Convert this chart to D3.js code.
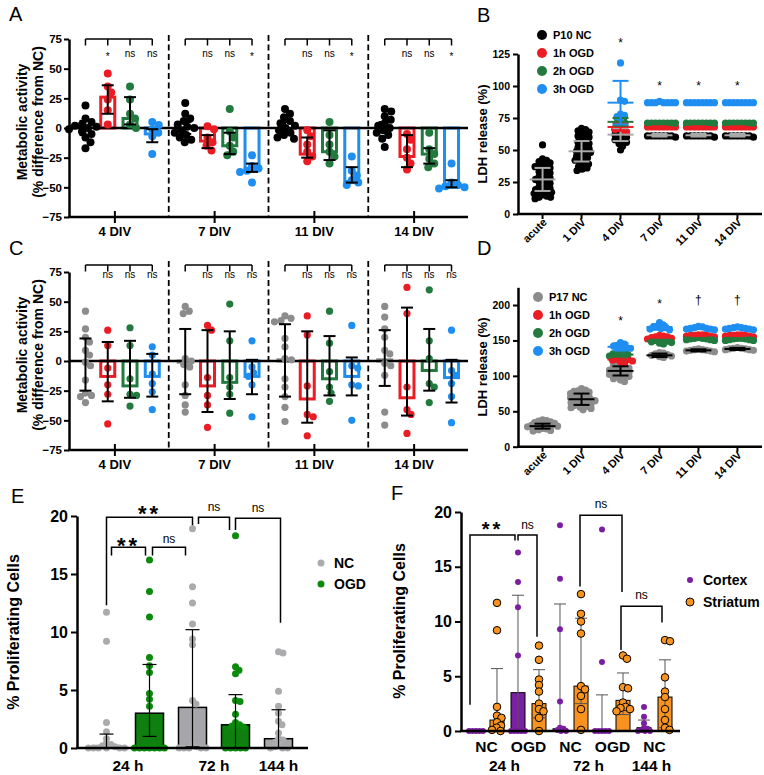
<!DOCTYPE html>
<html><head><meta charset="utf-8">
<script src="https://cdn.jsdelivr.net/npm/d3@7"></script>
<style>body{margin:0;background:#fff}svg{display:block}</style>
</head><body><svg id="c" width="764" height="775"></svg>
<script>
// ---------- DATA ----------
const divCats = ["4 DIV","7 DIV","11 DIV","14 DIV"];
const conds = ["NC","1h OGD","2h OGD","3h OGD"];
const divTicks = [-75,-50,-25,0,25,50,75];

// Panel A (P10) metabolic activity
const aMean = [[0,26,8,-5],[0,-11,-15,-36],[0,-22,-20,-45],[0,-24,-22,-50]];
const aHi   = [[6,36,26,-1],[5,-6,-4,-30],[5,-8,-2,-33],[5,-6,-17,-44]];
const aLo   = [[-6,12,3,-12],[-5,-17,-22,-37],[-3,-25,-27,-46],[-3,-33,-30,-50]];
const aPts = [
 [[19,8,5,3,2,1,0,-1,-3,-5,-8,-12,-17],[46,35,30,24,15,3],[35,24,12,8,3,0],[5,2.5,-1,-4,-7,-22]],
 [[21,12,8,6,3,1,0,-2,-4,-6,-8,-10,-12],[1.5,-1,-8,-12,-15,-19],[16,-3,-8,-15,-20,-23],[-23,-32,-34,-36,-37,-46]],
 [[16,12,9,6,4,2,0,-2,-4,-6,-8,-9],[-2,-7,-14,-20,-24,-28],[5,-6,-14,-20,-24,-30],[-24,-36,-40,-44,-46,-48]],
 [[16,14,10,7,4,2,0,-2,-4,-6,-9,-16],[-5,-10,-18,-25,-30,-35],[-4,-18,-22,-26,-30,-33],[-30,-46,-48,-49,-50,-51]]
];
const aSig = [["*","ns","ns"],["ns","ns","*"],["ns","ns","*"],["ns","ns","*"]];

// Panel C (P17) metabolic activity
const cMean = [[0,-13,-21,-13],[-1,-21,-18,-13],[1,-32,-15,-13],[1,-31,-8,-14]];
const cHi   = [[19,16,17,6],[27,26,25,1],[31,25,21,3],[26,45,27,1]];
const cLo   = [[-25,-34,-31,-30],[-28,-43,-32,-28],[-30,-52,-29,-29],[-21,-46,-25,-35]];
const cPts = [
 [[42,27,20,16,9,5,-1,-4,-16,-27,-29,-30,-35],[26,13,-6,-20,-28,-53],[28,13,-15,-28,-29,-38],[12,5,-11,-19,-26,-41]],
 [[46,42,40,2,0,-3,-5,-20,-29,-37,-43],[30,26,-14,-29,-37,-56],[48,17,-14,-22,-28,-44],[17,-5,-10,-13,-20,-47]],
 [[38,36,34,33,19,12,2,1,-15,-22,-30,-39,-51],[38,22,-21,-45,-47,-63],[42,15,-9,-22,-27,-34],[30,-4,-6,-20,-21,-50]],
 [[46,37,27,20,9,6,-2,-4,-12,-43,-54],[62,40,-22,-41,-45,-61],[60,17,2,-19,-22,-35],[26,-8,-12,-19,-30,-52]]
];
const cSig = [["ns","ns","ns"],["ns","ns","ns"],["ns","ns","ns"],["ns","ns","ns"]];

// Panels B and D: LDH release
const ldhCats = ["acute","1 DIV","4 DIV","7 DIV","11 DIV","14 DIV"];
const bNC = [
 [54,43,42,41,40,39,38,37,37,36,35,34,33,32,31,30,29,28,27,27,26,25,24,23,22,21,20,19,19,18,17,17,16,15,14,13,13,12],
 [67,66,65,64,63,62,61,60,58,57,56,55,54,53,52,51,50,49,49,48,47,46,45,44,43,42,41,40,39,38,37,36,35,34],
 [70,68,67,66,65,64,63,62,61,60,59,58,57,56,55,53,50],
 [61,61,61,61,61,61,61,60],[61,61,61,61,61,61,61,60],[61,61,61,61,61,61,61,60]
];
const b1h = [[],[],[74,72,70,68,67,66,65,64],[68,68,68,68,68,68,68,68],[68,68,68,68,68,68,68,68],[68,68,68,68,68,68,68,68]];
const b2h = [[],[],[77,76,75,72,71,70],[71,71,71,71,71,71,71,71],[71,71,71,71,71,71,71,71],[71,71,71,71,71,71,71,71]];
const b3h = [[],[],[118,89,88,78,77,76,74,70],[88,87,87,87,87,87,87,87],[87,87,87,87,87,87,87,87],[87,87,87,87,87,87,87,87]];
const bMean = [[27,49,62,61.5,61.5,61.5],[null,null,68,68,68,68],[null,null,72,71,71,71],[null,null,87,87,87,87]];
const bSD   = [[9,8,5,1,1,1],[null,null,3,0.5,0.5,0.5],[null,null,3,0.5,0.5,0.5],[null,null,17,0.5,0.5,0.5]];
const bStars = ["","","*","*","*","*"];

const dNC = [
 [38,37,36,35,34,33,32,31,30,30,29,29,28,27,26,25,24,23,22],
 [82,80,79,78,77,76,75,74,73,72,71,70,69,68,67,66,66,65,64,63,62,61,60,59,58,57,56,55,54,52],
 [120,118,116,115,113,112,111,110,109,108,107,106,105,104,103,102,101,100,99,98,96,94,92],
 [133,132,131,130,129,128,127,126],[138,137,137,136,136,135,135,134],[140,139,139,138,138,137,137,136]
];
const d1h = [[],[],[126,125,124,123,122,121,120,118],[157,156,155,155,154,153,152,151],[158,158,157,157,157,156,156,155],[158,158,157,157,157,156,156,155]];
const d2h = [[],[],[135,133,132,131,130,129,128,126],[152,151,150,149,148,147,146,145],[154,153,153,152,152,151,151,150],[153,153,152,152,151,151,150,150]];
const d3h = [[],[],[147,145,143,142,141,140,139,137,135],[175,172,170,169,168,167,166,165],[170,169,168,167,167,166,166,165],[169,168,168,167,167,166,166,165]];
const dMean = [[29,67,107,129,136,138],[null,null,123,154,157,157],[null,null,130,149,152,152],[null,null,141,169,167,167]];
const dSD   = [[3.5,8,6.5,2.5,1.5,1.5],[null,null,3,2,1,1],[null,null,3,2,1,1],[null,null,5,4,1,1]];
const dStars = ["","","*","*","†","†"];

// Panel E
const eCats = ["NC 24 h","OGD 24 h","NC 72 h","OGD 72 h","NC 144 h"];
const eGroup = ["NC","OGD","NC","OGD","NC"];
const eMean = [0.2,3.0,3.5,2.0,0.8];
const eHi = [1.2,7.2,10.2,4.6,3.3];
const eLo = [0,1.0,0.1,0,0];
const ePts = [
 [11.7,9.2,2.2,1.4,0.8,0.4,0.3,0.2,0.1,0,0,0,0,0,0],
 [16.2,13.5,11.3,7.8,7.1,6.5,4.7,4.2,3.6,0,0,0,0,0,0,0],
 [18.9,13.9,12.5,10.7,9.4,8.9,4.1,3.8,0.3,0.1,0,0,0,0,0],
 [18.3,7.0,6.7,6.4,4.1,4.0,2.9,2.2,2.0,1.9,1.8,0,0,0,0,0],
 [8.3,8.2,4.9,3.6,3.0,2.3,2.0,1.3,0.8,0.7,0.5,0.3,0.1,0,0,0]
];
const eTimeLabels = [["24 h",0,1],["72 h",2,3],["144 h",4,4]];

// Panel F
const fCats = ["NC24C","NC24S","OGD24C","OGD24S","NC72C","NC72S","OGD72C","OGD72S","NC144C","NC144S"];
const fRegion = ["Cortex","Striatum","Cortex","Striatum","Cortex","Striatum","Cortex","Striatum","Cortex","Striatum"];
const fMean = [0,1.0,3.5,2.5,0.2,4.1,0,2.8,0.3,3.1];
const fHi = [0,5.7,12.4,5.6,11.6,10.3,3.3,5.3,1.0,6.5];
const fLo = [0,0,0,1.2,0,2.5,0,1.5,0,0.3];
const fPts = [
 [0,0,0,0,0],
 [11.7,9.2,2.2,1.4,1.2,0.8,0.5,0.3,0.1,0],
 [16.3,13.6,11.3,6.9,0,0,0,0,0],
 [7.8,6.5,4.7,4.2,3.6,2.5,2.0,1.8,1.2,0],
 [18.8,13.9,9.3,2.7,0.3,0.2,0.1,0,0],
 [12.5,10.7,10.0,8.9,4.1,3.8,3.2,2.0,0.1],
 [18.4,6.3,0,0,0,0,0],
 [6.9,6.6,4.0,3.9,2.6,2.2,2.1,2.0,1.8],
 [2.2,1.3,0.7,0.3,0.2,0.1,0,0,0],
 [8.3,8.2,4.9,3.6,3.1,2.0,1.0,0.3,0.1]
];
const fCondLabels = [["NC",0,1],["OGD",2,3],["NC",4,5],["OGD",6,7],["NC",8,9]];
const fTimeLabels = [["24 h",0,3],["72 h",4,7],["144 h",8,9]];

// ---------- DRAWING ----------
const svg = d3.select("#c");
const FONT = '"Liberation Sans", Arial, Helvetica, sans-serif';
svg.attr("font-family", FONT);

const RED="#ec1c24", GREEN="#227a3e", BLUE="#1f8ef1";

function swarm(vals, y, minDist) {
  const pts = vals.map(v => ({v, py: y(v)})).sort((a,b) => a.py - b.py);
  const placed = [];
  pts.forEach(p => {
    let off = 0;
    for (let k = 0; k < 200; k++) {
      off = k === 0 ? 0 : (k % 2 ? 1 : -1) * Math.ceil(k / 2) * 0.5;
      if (placed.every(q => (q.dx - off) ** 2 + (q.py - p.py) ** 2 >= minDist * minDist)) break;
    }
    p.dx = off; placed.push(p);
  });
  return pts;
}
function styleAxis(g, fs) {
  g.attr("font-family", FONT).attr("font-size", fs).attr("font-weight", "bold");
  g.select(".domain").attr("stroke-width", 2.5);
  g.selectAll(".tick line").attr("stroke-width", 2);
  g.selectAll(".tick text").attr("fill", "#000");
}
function sigText(g, x, cy, t, fs, weight) {
  const off = /^\*+$/.test(t) ? 0.57 : (t === "†" ? 0.33 : 0.26);
  g.append("text").attr("x", x).attr("y", cy + off * fs).attr("text-anchor", "middle")
    .attr("font-size", fs).attr("font-weight", weight || "normal").text(t);
}
function panelLabel(t, x, y) {
  svg.append("text").attr("x", x).attr("y", y).attr("font-size", 20).text(t);
}
function line(g, x1, y1, x2, y2, w, col) {
  return g.append("line").attr("x1", x1).attr("y1", y1).attr("x2", x2).attr("y2", y2)
    .attr("stroke", col || "#000").attr("stroke-width", w);
}

function drawDiv(p) {
  const g = svg.append("g");
  const y = d3.scaleLinear().domain([-75, 75]).range([p.bottom, p.top]);
  const gx = d3.scaleBand().domain(divCats).range([69, 468]);
  const ix = d3.scalePoint().domain(conds).range([0, gx.bandwidth()]).padding(0.74);
  divCats.slice(1).forEach(c => line(g, gx(c), p.br - 4, gx(c), p.bottom, 1.8).attr("stroke-dasharray", "6,3.5"));
  divCats.forEach((c, ci) => conds.forEach((s, si) => {
    const cx = gx(c) + ix(s), m = p.mean[ci][si];
    g.append("rect").attr("x", cx - 7).attr("width", 14)
      .attr("y", Math.min(y(0), y(m))).attr("height", Math.abs(y(m) - y(0)))
      .attr("fill", "none").attr("stroke", p.colors[si]).attr("stroke-width", 3);
  }));
  line(g, 69, y(0), 468, y(0), 2.5);
  divCats.forEach((c, ci) => conds.forEach((s, si) => {
    const cx = gx(c) + ix(s);
    swarm(p.pts[ci][si], y, p.r * 1.7).forEach(d =>
      g.append("circle").attr("cx", cx + d.dx).attr("cy", d.py).attr("r", p.r).attr("fill", p.colors[si]));
  }));
  divCats.forEach((c, ci) => conds.forEach((s, si) => {
    const cx = gx(c) + ix(s);
    line(g, cx, y(p.lo[ci][si]), cx, y(p.hi[ci][si]), 2);
    line(g, cx - 6, y(p.lo[ci][si]), cx + 6, y(p.lo[ci][si]), 2);
    line(g, cx - 6, y(p.hi[ci][si]), cx + 6, y(p.hi[ci][si]), 2);
  }));
  const ya = g.append("g").attr("transform", "translate(69,0)")
    .call(d3.axisLeft(y).tickValues(divTicks).tickSize(5).tickSizeOuter(0).tickPadding(2));
  styleAxis(ya, 11.5);
  line(g, 68, p.bottom, 468, p.bottom, 2.5);
  divCats.forEach(c => {
    const tx = gx(c) + gx.bandwidth() / 2 - 4;
    line(g, tx, p.bottom - 6, tx, p.bottom + 6, 2);
    g.append("text").attr("x", tx).attr("y", p.bottom + 19).attr("text-anchor", "middle")
      .attr("font-size", 13).attr("font-weight", "bold").text(c);
  });
  divCats.forEach((c, ci) => {
    const x0 = gx(c) + ix(conds[0]), x1 = gx(c) + ix(conds[3]);
    line(g, x0, p.br, x1, p.br, 1.5);
    conds.forEach(s => line(g, gx(c) + ix(s), p.br, gx(c) + ix(s), p.br + 6.5, 1.5));
    conds.slice(1).forEach((s, k) => sigText(g, gx(c) + ix(s), p.sigY, p.sig[ci][k], 10));
  });
  const cy = (p.top + p.bottom) / 2 - 6;
  g.append("text").attr("transform", `translate(27,${cy}) rotate(-90)`).attr("text-anchor", "middle")
    .attr("font-size", 14).attr("font-weight", "bold").text("Metabolic activity");
  g.append("text").attr("transform", `translate(42.5,${cy}) rotate(-90)`).attr("text-anchor", "middle")
    .attr("font-size", 14).attr("font-weight", "bold").text("(% difference from NC)");
}

drawDiv({top: 39, bottom: 217, br: 39, sigY: 54.5, mean: aMean, hi: aHi, lo: aLo, pts: aPts, sig: aSig,
  colors: ["#000", RED, GREEN, BLUE], r: 4});
drawDiv({top: 272, bottom: 450, br: 265, sigY: 275.5, mean: cMean, hi: cHi, lo: cLo, pts: cPts, sig: cSig,
  colors: ["#8c8c8c", RED, GREEN, BLUE], r: 3.6});

function drawLdh(p) {
  const g = svg.append("g");
  const y = d3.scaleLinear().domain(p.dom).range([p.bottom, p.top]);
  const x = d3.scalePoint().domain(ldhCats).range([518, 762]).padding(0.63);
  p.series.forEach((ser, si) => ldhCats.forEach((c, ci) => {
    swarm(ser[ci], y, 4).forEach(d =>
      g.append("circle").attr("cx", x(c) + d.dx).attr("cy", d.py).attr("r", 3.6).attr("fill", p.dotCols[si]));
  }));
  p.mean.forEach((ms, si) => ldhCats.forEach((c, ci) => {
    const m = ms[ci]; if (m == null) return;
    const sd = p.sd[si][ci], cx = x(c), col = p.lineCols[si];
    line(g, cx - 13, y(m), cx + 13, y(m), 2, col);
    line(g, cx, y(m - sd), cx, y(m + sd), 2, col);
    line(g, cx - 8, y(m - sd), cx + 8, y(m - sd), 2, col);
    line(g, cx - 8, y(m + sd), cx + 8, y(m + sd), 2, col);
  }));
  const ya = g.append("g").attr("transform", "translate(518,0)")
    .call(d3.axisLeft(y).tickValues(p.ticks).tickSize(5).tickSizeOuter(0).tickPadding(3));
  styleAxis(ya, 10.5);
  line(g, 517, p.bottom, 762, p.bottom, 2.5);
  ldhCats.forEach(c => {
    line(g, x(c), p.bottom, x(c), p.bottom + 5, 2);
    g.append("text").attr("transform", `translate(${x(c) + 5},${p.bottom + 9}) rotate(-45)`)
      .attr("text-anchor", "end").attr("font-size", 11).attr("font-weight", "bold").text(c);
  });
  p.stars.forEach((s, ci) => { if (s) sigText(g, x(ldhCats[ci]), p.starY[ci], s, 12); });
  g.append("text").attr("transform", `translate(487,${(p.top + p.bottom) / 2}) rotate(-90)`)
    .attr("text-anchor", "middle").attr("font-size", 13).attr("font-weight", "bold").text("LDH release (%)");
  p.legend.forEach((t, i) => {
    g.append("circle").attr("cx", p.legX).attr("cy", p.legY + i * 18).attr("r", 5).attr("fill", p.dotCols[i]);
    g.append("text").attr("x", p.legX + 11).attr("y", p.legY + i * 18 + 4).attr("font-size", 11)
      .attr("font-weight", "bold").text(t);
  });
}

drawLdh({dom: [0, 125], top: 54, bottom: 214, ticks: [0, 25, 50, 75, 100, 125],
  series: [bNC, b1h, b2h, b3h], mean: bMean, sd: bSD,
  dotCols: ["#000", RED, GREEN, BLUE], lineCols: ["#a9a9a9", RED, GREEN, BLUE],
  stars: bStars, starY: [0, 0, 40, 83, 83, 83], legend: ["P10 NC", "1h OGD", "2h OGD", "3h OGD"], legX: 542, legY: 35});
drawLdh({dom: [0, 225], top: 287.3, bottom: 446.7, ticks: [0, 50, 100, 150, 200],
  series: [dNC, d1h, d2h, d3h], mean: dMean, sd: dSD,
  dotCols: ["#8c8c8c", RED, GREEN, BLUE], lineCols: ["#000", RED, GREEN, BLUE],
  stars: dStars, starY: [0, 0, 318, 301, 300, 300], legend: ["P17 NC", "1h OGD", "2h OGD", "3h OGD"], legX: 538, legY: 297});

// ---- Panel E ----
(function () {
  const g = svg.append("g");
  const y = d3.scaleLinear().domain([0, 20]).range([748, 516]);
  const x = d3.scalePoint().domain(eCats).range([77, 308]).padding(0.686);
  const barCol = {NC: "#a6a6aa", OGD: "#0f800f"}, dotCol = {NC: "#ababae", OGD: "#0c8a0c"};
  eCats.forEach((c, i) => g.append("rect").attr("x", x(c) - 14).attr("width", 28)
    .attr("y", y(eMean[i])).attr("height", y(0) - y(eMean[i]))
    .attr("fill", barCol[eGroup[i]]).attr("stroke", "#000").attr("stroke-width", 1.5));
  eCats.forEach((c, i) => swarm(ePts[i], y, 4.6).forEach(d =>
    g.append("circle").attr("cx", x(c) + d.dx).attr("cy", d.py).attr("r", 3.5).attr("fill", dotCol[eGroup[i]])));
  eCats.forEach((c, i) => {
    const cx = x(c);
    line(g, cx, y(eLo[i]), cx, y(eHi[i]), 1.2);
    line(g, cx - 7, y(eHi[i]), cx + 7, y(eHi[i]), 1.2);
    line(g, cx - 7, y(eLo[i]), cx + 7, y(eLo[i]), 1.2);
  });
  const ya = g.append("g").attr("transform", "translate(77,0)")
    .call(d3.axisLeft(y).tickValues([0, 5, 10, 15, 20]).tickSize(6).tickSizeOuter(0).tickPadding(3));
  styleAxis(ya, 16);
  line(g, 76, 748, 308, 748, 2.5);
  eTimeLabels.forEach(([t, a, b]) => g.append("text").attr("x", (x(eCats[a]) + x(eCats[b])) / 2).attr("y", 771)
    .attr("text-anchor", "middle").attr("font-size", 15.5).attr("font-weight", "bold").text(t));
  // brackets: [a, b, insetA, insetB, yTop, yLegA, yLegB, label, labelBaseline, fs, weight]
  const br = [
    [0, 2, 0, 0, 19.9, 12.3, 19.2, "**", 520.7, 22, "bold"],
    [2, 3, 6, -6, 19.9, 19.3, 18.8, "ns", 510.5, 12, "normal"],
    [3, 4, 0, 2, 19.8, 18.8, 10.8, "ns", 511.5, 12, "normal"],
    [0, 1, 5, -4, 17.3, 16.6, 16.6, "**", 553, 22, "bold"],
    [1, 2, 3, -7, 17.3, 16.6, 16.6, "ns", 542.5, 12, "normal"]
  ];
  br.forEach(([a, b, ia, ib, yt, ya2, yb, lab, lb, fs, w]) => {
    const xa = x(eCats[a]) + ia, xb = x(eCats[b]) + ib;
    g.append("path").attr("d", `M${xa},${y(ya2)}V${y(yt)}H${xb}V${y(yb)}`).attr("fill", "none")
      .attr("stroke", "#000").attr("stroke-width", 1.5);
    g.append("text").attr("x", (xa + xb) / 2).attr("y", lb).attr("text-anchor", "middle")
      .attr("font-size", fs).attr("font-weight", w).attr("letter-spacing", w === "bold" ? 3 : 0).text(lab);
  });
  [["NC", dotCol.NC], ["OGD", dotCol.OGD]].forEach(([t, col], i) => {
    g.append("circle").attr("cx", 321).attr("cy", 563 + i * 21).attr("r", 3.5).attr("fill", col);
    g.append("text").attr("x", 334).attr("y", 568 + i * 21).attr("font-size", 14).attr("font-weight", "bold").text(t);
  });
  g.append("text").attr("transform", "translate(18.5,632) rotate(-90)").attr("text-anchor", "middle")
    .attr("font-size", 16).attr("font-weight", "bold").text("% Proliferating Cells");
})();

// ---- Panel F ----
(function () {
  const g = svg.append("g");
  const y = d3.scaleLinear().domain([0, 20]).range([731, 512]);
  const x = d3.scalePoint().domain(fCats).range([461, 680]).padding(0.714);
  const barCol = {Cortex: "#7b1fa2", Striatum: "#f7931e"};
  fCats.forEach((c, i) => g.append("rect").attr("x", x(c) - 7).attr("width", 14)
    .attr("y", y(fMean[i])).attr("height", y(0) - y(fMean[i]))
    .attr("fill", barCol[fRegion[i]]).attr("stroke", "#000").attr("stroke-width", 1));
  fCats.forEach((c, i) => {
    if (fHi[i] === fLo[i]) return;
    const cx = x(c);
    line(g, cx, y(fLo[i]), cx, y(fHi[i]), 1, "#555");
    line(g, cx - 6, y(fHi[i]), cx + 6, y(fHi[i]), 1, "#555");
    line(g, cx - 6, y(fLo[i]), cx + 6, y(fLo[i]), 1, "#555");
  });
  fCats.forEach((c, i) => {
    const isC = fRegion[i] === "Cortex";
    swarm(fPts[i], y, isC ? 3.2 : 5).forEach(d => {
      const el = g.append("circle").attr("cx", x(c) + d.dx).attr("cy", d.py).attr("r", isC ? 3 : 3.8)
        .attr("fill", barCol[fRegion[i]]);
      if (!isC) el.attr("stroke", "#000").attr("stroke-width", 1);
    });
  });
  const ya = g.append("g").attr("transform", "translate(461,0)")
    .call(d3.axisLeft(y).tickValues([0, 5, 10, 15, 20]).tickSize(6).tickSizeOuter(0).tickPadding(3));
  styleAxis(ya, 16);
  line(g, 460, 731, 680, 731, 2.5);
  fCondLabels.forEach(([t, a, b]) => g.append("text").attr("x", (x(fCats[a]) + x(fCats[b])) / 2).attr("y", 752)
    .attr("text-anchor", "middle").attr("font-size", 15.5).attr("font-weight", "bold").text(t));
  fTimeLabels.forEach(([t, a, b]) => g.append("text").attr("x", (x(fCats[a]) + x(fCats[b])) / 2 - 3).attr("y", 771)
    .attr("text-anchor", "middle").attr("font-size", 15.5).attr("font-weight", "bold").text(t));
  const br = [
    [0, 2, -6, -3, 17.9, 2.4, 17.4, "**", 535.5, 20, "bold"],
    [2, 3, 0, -2, 17.9, 17.4, 8.6, "ns", 529, 12, "normal"],
    [5, 7, -1, -1, 19.7, 13.2, 12.7, "ns", 508, 12, "normal"],
    [7, 9, -2, -3, 11.4, 7.4, 9.9, "ns", 599, 12, "normal"]
  ];
  br.forEach(([a, b, ia, ib, yt, ya2, yb, lab, lb, fs, w]) => {
    const xa = x(fCats[a]) + ia, xb = x(fCats[b]) + ib;
    g.append("path").attr("d", `M${xa},${y(ya2)}V${y(yt)}H${xb}V${y(yb)}`).attr("fill", "none")
      .attr("stroke", "#000").attr("stroke-width", 1.5);
    g.append("text").attr("x", (xa + xb) / 2).attr("y", lb).attr("text-anchor", "middle")
      .attr("font-size", fs).attr("font-weight", w).attr("letter-spacing", w === "bold" ? 3 : 0).text(lab);
  });
  ["Cortex", "Striatum"].forEach((t, i) => {
    const el = g.append("circle").attr("cx", 690).attr("cy", 580 + i * 22).attr("r", i ? 4 : 3).attr("fill", barCol[t]);
    if (i) el.attr("stroke", "#000").attr("stroke-width", 1);
    g.append("text").attr("x", 703).attr("y", 585 + i * 22).attr("font-size", 14).attr("font-weight", "bold").text(t);
  });
  g.append("text").attr("transform", "translate(405,621) rotate(-90)").attr("text-anchor", "middle")
    .attr("font-size", 16).attr("font-weight", "bold").text("% Proliferating Cells");
})();

panelLabel("A", 9, 21);
panelLabel("B", 477, 22);
panelLabel("C", 9, 255);
panelLabel("D", 477, 255);
panelLabel("E", 11, 503);
panelLabel("F", 391, 500);
</script></body></html>
